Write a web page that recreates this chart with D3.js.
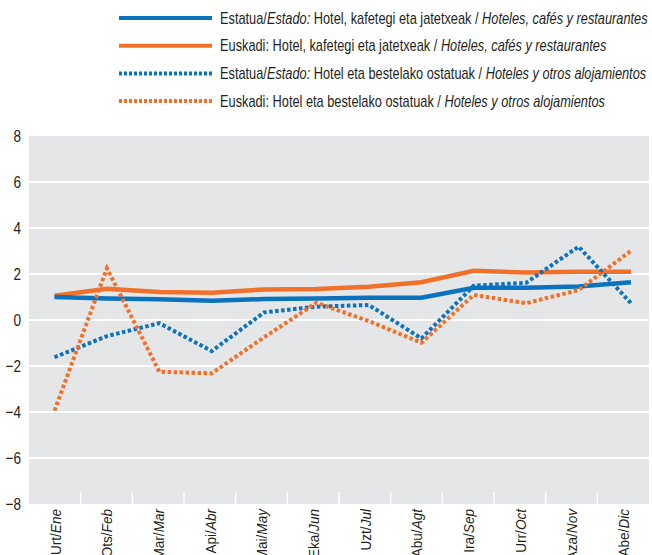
<!DOCTYPE html>
<html>
<head>
<meta charset="utf-8">
<script src="https://cdn.jsdelivr.net/npm/d3@7"></script>
<style>
  body { margin: 0; background: #fff; }
  svg { display: block; }
  text { font-family: "Liberation Sans", Arial, sans-serif; fill: #231f20; }
</style>
</head>
<body>
<script>
'use strict';

// month labels: euskara / castellano
const monthsEu = ["Urt", "Ots", "Mar", "Api", "Mai", "Eka", "Uzt", "Abu", "Ira", "Urr", "Aza", "Abe"];
const monthsEs = ["Ene", "Feb", "Mar", "Abr", "May", "Jun", "Jul", "Agt", "Sep", "Oct", "Nov", "Dic"];

// year-on-year change, %
const estadoRestaurantes = [1.0, 0.93, 0.9, 0.84, 0.91, 0.94, 0.97, 0.97, 1.4, 1.4, 1.46, 1.64];
const euskadiRestaurantes = [1.05, 1.36, 1.22, 1.19, 1.33, 1.35, 1.45, 1.64, 2.14, 2.06, 2.1, 2.1];
const estadoAlojamientos = [-1.62, -0.7, -0.14, -1.35, 0.33, 0.58, 0.65, -0.8, 1.49, 1.62, 3.19, 0.73];
const euskadiAlojamientos = [-3.94, 2.25, -2.25, -2.32, -0.75, 0.75, -0.05, -0.99, 1.09, 0.73, 1.3, 3.01];

const yTicks = [-8, -6, -4, -2, 0, 2, 4, 6, 8];

const blue = "#0b72bd";
const orange = "#f1712a";

const series = [
  { values: euskadiRestaurantes, color: orange, dotted: false,
    legend: [["Euskadi: Hotel, kafetegi eta jatetxeak / ", false], ["Hoteles, cafés y restaurantes", true]] },
  { values: estadoRestaurantes, color: blue, dotted: false,
    legend: [["Estatua/", false], ["Estado:", true], [" Hotel, kafetegi eta jatetxeak / ", false], ["Hoteles, cafés y restaurantes", true]] },
  { values: estadoAlojamientos, color: blue, dotted: true,
    legend: [["Estatua/", false], ["Estado:", true], [" Hotel eta bestelako ostatuak / ", false], ["Hoteles y otros alojamientos", true]] },
  { values: euskadiAlojamientos, color: orange, dotted: true,
    legend: [["Euskadi: Hotel eta bestelako ostatuak / ", false], ["Hoteles y otros alojamientos", true]] }
];
// legend order as in the picture
const legendOrder = [1, 0, 2, 3];

const width = 652;
const height = 555;
const plot = { left: 29, right: 649, top: 136, bottom: 504 };
// month labels are long in the original and run off the bottom edge
const squeeze = 0.97;

const svg = d3.select("body")
  .append("svg")
  .attr("width", width)
  .attr("height", height);

const idx = d3.range(monthsEu.length);
const x = d3.scalePoint()
  .domain(idx)
  .range([54.5, 631]);
const xBand = d3.scaleBand()
  .domain(idx)
  .range([plot.left, plot.right]);
const y = d3.scaleLinear()
  .domain([-8, 8])
  .range([plot.bottom, plot.top]);

// plot background
svg.append("rect")
  .attr("x", plot.left)
  .attr("y", plot.top)
  .attr("width", plot.right - plot.left)
  .attr("height", plot.bottom - plot.top)
  .attr("fill", "#e5e6e7");

// horizontal grid
svg.append("g")
  .selectAll("line")
  .data(yTicks.filter(t => t > -8 && t < 8))
  .enter()
  .append("line")
  .attr("x1", plot.left)
  .attr("x2", plot.right)
  .attr("y1", d => y(d))
  .attr("y2", d => y(d))
  .attr("stroke", "#fff")
  .attr("stroke-width", 2);

// small white ticks between months
svg.append("g")
  .selectAll("line")
  .data(idx.slice(1))
  .enter()
  .append("line")
  .attr("x1", d => xBand(d))
  .attr("x2", d => xBand(d))
  .attr("y1", plot.bottom - 12)
  .attr("y2", plot.bottom)
  .attr("stroke", "#fff")
  .attr("stroke-width", 1.5);

// y axis
let yAxis = svg.append("g")
  .attr("transform", "translate(" + plot.left + ",0)")
  .call(d3.axisLeft(y).tickValues(yTicks).tickSize(0).tickPadding(8));
yAxis.select(".domain").remove();
yAxis.selectAll("text")
  .attr("font-family", null)
  .attr("x", null)
  .attr("transform", "translate(-8,0) scale(0.8,1)")
  .style("font-size", "17px")
  .style("fill", "#231f20");

// x labels, rotated
let xLabels = svg.append("g")
  .selectAll("text")
  .data(idx)
  .enter()
  .append("text")
  .attr("transform", d => "translate(" + (xBand(d) + xBand.bandwidth() / 2 + 1) + "," + (plot.bottom + 5) + ") rotate(-90) scale(" + squeeze + ",1)")
  .attr("text-anchor", "end")
  .attr("dy", "0.35em")
  .style("font-size", "14px");
xLabels.append("tspan").text(d => monthsEu[d] + "/");
xLabels.append("tspan").style("font-style", "italic").text(d => monthsEs[d]);

// lines
const line = d3.line()
  .x((v, i) => x(i))
  .y(v => y(v));

svg.append("g")
  .selectAll("path")
  .data(series.filter(s => !s.dotted).concat(series.filter(s => s.dotted)))
  .enter()
  .append("path")
  .attr("d", s => line(s.values))
  .attr("fill", "none")
  .attr("stroke", s => s.color)
  .attr("stroke-width", s => s.dotted ? 4 : 4.5)
  .attr("stroke-dasharray", s => s.dotted ? "3.5,2.5" : null);

// legend
let legend = svg.append("g")
  .selectAll("g")
  .data(legendOrder.map(i => series[i]))
  .enter()
  .append("g")
  .attr("transform", (s, i) => "translate(0," + (18 + i * 27.7) + ")");

legend.append("line")
  .attr("x1", 119)
  .attr("x2", 212)
  .attr("stroke", s => s.color)
  .attr("stroke-width", 4)
  .attr("stroke-dasharray", s => s.dotted ? "3,2" : null);

let legendText = legend.append("text")
  .attr("dy", "0.35em")
  .style("font-size", "16px");
legendText.selectAll("tspan")
  .data(s => s.legend)
  .enter()
  .append("tspan")
  .style("font-style", d => d[1] ? "italic" : null)
  .text(d => d[0]);

// first row runs from x=220 to the right edge of the plot
let rowWidth = legendText.node().getComputedTextLength();
let sx = (648 - 220) / rowWidth;
legendText.attr("transform", "translate(220,0) scale(" + sx + ",1)");
</script>
</body>
</html>
